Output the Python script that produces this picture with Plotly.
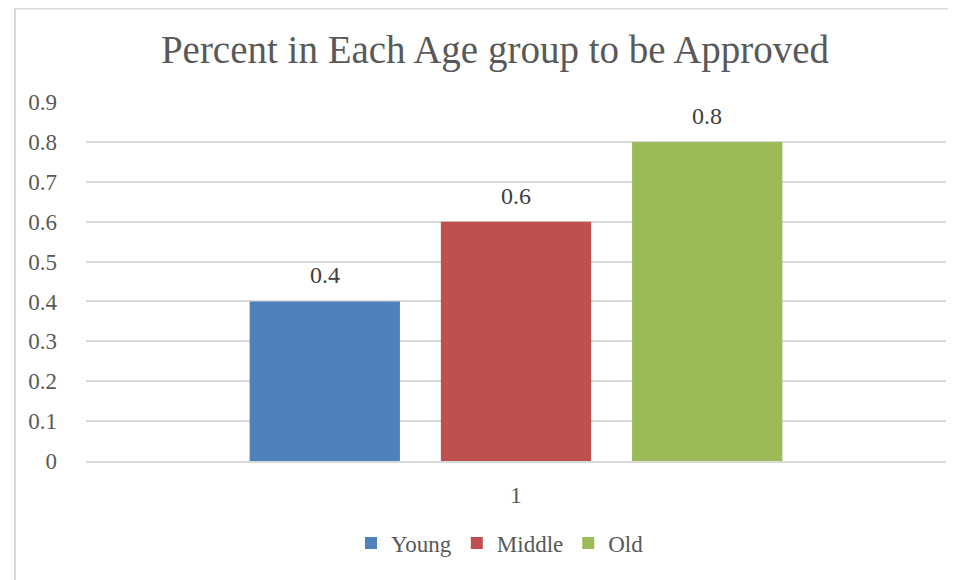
import plotly.graph_objects as go

categories = ["1"]
series_names = ["Young", "Middle", "Old"]
series_values = [[0.4], [0.6], [0.8]]
colors = ["#4F81BD", "#C0504D", "#9BBB59"]
y_ticks = [0, 0.1, 0.2, 0.3, 0.4, 0.5, 0.6, 0.7, 0.8, 0.9]
title = "Percent in Each Age group to be Approved"

FONT = "Liberation Serif"
TXT = "#595959"
BARGAP = 0.333
BARGROUPGAP = 0.214

fig = go.Figure()
for name, vals, col in zip(series_names, series_values, colors):
    fig.add_trace(go.Bar(
        x=categories, y=vals, name=name, marker=dict(color=col, line=dict(width=0)),
    ))

# data labels placed above each bar, centred on the bar slot derived from the bar gaps
n = len(series_names)
slot = (1 - BARGAP) / n
for i, vals in enumerate(series_values):
    off = -(1 - BARGAP) / 2 + slot * (i + 0.5)
    for ci, v in enumerate(vals):
        fig.add_annotation(x=ci + off, y=v, xref="x", yref="y", text=str(v), showarrow=False,
                           yanchor="bottom", yshift=11,
                           font=dict(family=FONT, size=24, color="#404040"))

fig.update_layout(
    width=956, height=580,
    paper_bgcolor="white", plot_bgcolor="white",
    margin=dict(l=78, r=18, t=94, b=127),
    barmode="group", bargap=BARGAP, bargroupgap=BARGROUPGAP,
    title=dict(text=title, x=487 / 956, xref="container", xanchor="center",
               y=1 - 41 / 580, yref="container", yanchor="middle",
               font=dict(family=FONT, size=39, color=TXT)),
    font=dict(family=FONT, color=TXT, size=23),
    showlegend=True,
    legend=dict(orientation="h", x=492 / 956, xanchor="center", xref="container",
                y=1 - 535 / 580, yref="container", yanchor="middle",
                font=dict(family=FONT, size=23, color=TXT),
                itemwidth=30, traceorder="normal"),
    xaxis=dict(showgrid=False, showline=True, linecolor="#d9d9d9", linewidth=2,
               tickfont=dict(family=FONT, size=23, color=TXT), ticks="", ticklabelstandoff=12),
    yaxis=dict(range=[0, 0.9], tickvals=y_ticks, ticktext=[("%g" % v) for v in y_ticks],
               showgrid=True, gridcolor="#d9d9d9", gridwidth=1.5, zeroline=False,
               showline=False, ticks="", tickfont=dict(family=FONT, size=23, color=TXT),
               ticklabelstandoff=28),
)

# outer chart border (left and top edges visible)
fig.add_shape(type="line", xref="paper", yref="paper",
              x0=(7 - 78) / 860, x1=(7 - 78) / 860, y0=-127 / 359, y1=(359 + 94) / 359,
              line=dict(color="#d9d9d9", width=2), layer="below")
fig.add_shape(type="line", xref="paper", yref="paper",
              x0=(7 - 78) / 860, x1=(956 - 78) / 860, y0=(359 + 93.5) / 359, y1=(359 + 93.5) / 359,
              line=dict(color="#d9d9d9", width=2), layer="below")

fig.write_html("out.html")
